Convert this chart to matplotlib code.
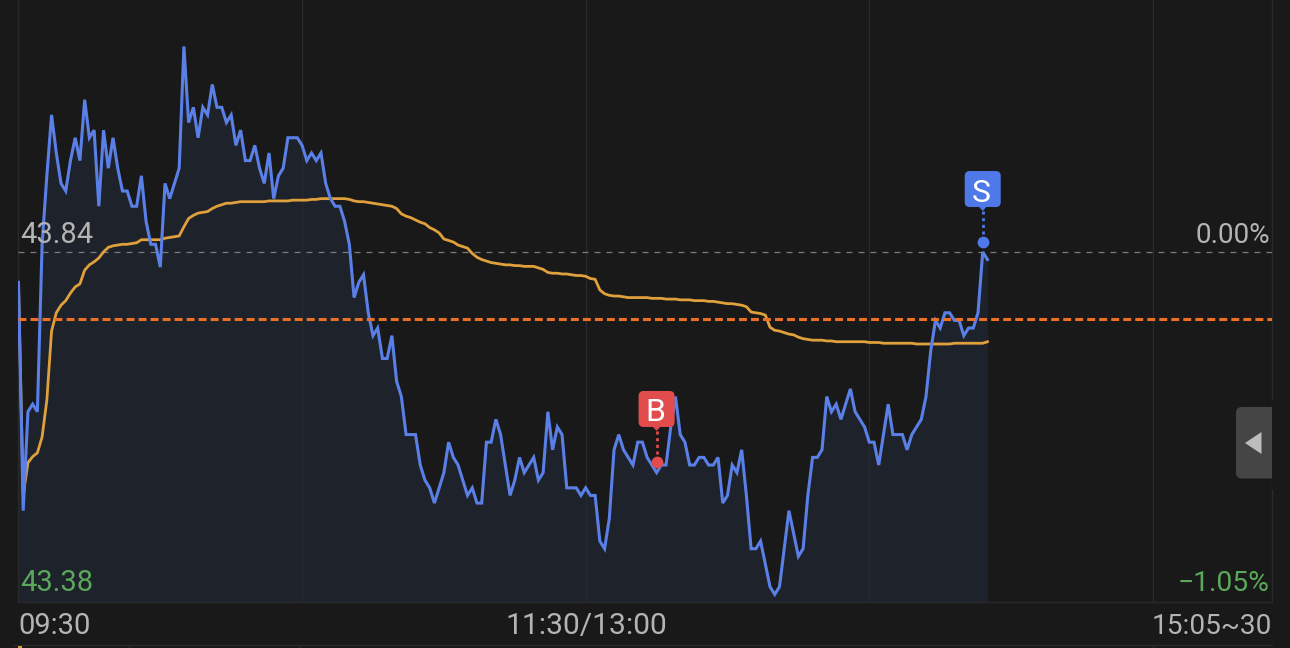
import matplotlib
matplotlib.use("Agg")
import matplotlib.pyplot as plt
import numpy as np
from matplotlib.patches import FancyBboxPatch, Polygon
from matplotlib.transforms import Affine2D

W, H = 1290, 648
BG = "#191919"
BLUE = "#5a80e8"
AVG = "#e0a03c"
ORANGE = "#ea7028"
GREY = "#b4b4b4"
GREEN = "#5aa95a"
FILL = "#1e222b"
GRID = "#292a2c"
RED = "#e24c4c"
TAG_BLUE = "#4f78e8"

price = [
    43.80, 43.50, 43.63, 43.64, 43.63, 43.85, 43.94, 44.02, 43.97, 43.93,
    43.92, 43.96, 43.99, 43.96, 44.04, 43.99, 44.00, 43.90, 44.00, 43.95,
    43.99, 43.95, 43.92, 43.92, 43.90, 43.90, 43.94, 43.88, 43.85, 43.85,
    43.82, 43.93, 43.91, 43.93, 43.95, 44.11, 44.01, 44.03, 43.99, 44.03,
    44.02, 44.06, 44.03, 44.03, 44.01, 44.02, 43.98, 44.00, 43.96, 43.96,
    43.98, 43.95, 43.93, 43.97, 43.91, 43.94, 43.95, 43.99, 43.99, 43.99,
    43.98, 43.96, 43.97, 43.96, 43.97, 43.93, 43.91, 43.90, 43.90, 43.88,
    43.85, 43.78, 43.80, 43.81, 43.76, 43.73, 43.74, 43.70, 43.70, 43.73,
    43.67, 43.65, 43.60, 43.60, 43.60, 43.56, 43.54, 43.53, 43.51, 43.53,
    43.55, 43.59, 43.57, 43.56, 43.54, 43.52, 43.53, 43.51, 43.51, 43.59,
    43.59, 43.62, 43.60, 43.56, 43.52, 43.54, 43.57, 43.55, 43.56, 43.57,
    43.54, 43.55, 43.63, 43.58, 43.61, 43.60, 43.53, 43.53, 43.53, 43.52,
    43.53, 43.52, 43.52, 43.46, 43.45, 43.49, 43.58, 43.60, 43.58, 43.57,
    43.56, 43.59, 43.59, 43.57, 43.56, 43.55, 43.56, 43.56, 43.61, 43.65,
    43.60, 43.59, 43.56, 43.56, 43.57, 43.57, 43.56, 43.56, 43.57, 43.51,
    43.52, 43.56, 43.55, 43.58, 43.52, 43.45, 43.45, 43.46, 43.43, 43.40,
    43.39, 43.40, 43.45, 43.50, 43.47, 43.44, 43.45, 43.52, 43.57, 43.57,
    43.58, 43.65, 43.63, 43.64, 43.62, 43.64, 43.66, 43.63, 43.62, 43.61,
    43.59, 43.59, 43.56, 43.60, 43.64, 43.60, 43.60, 43.60, 43.58, 43.60,
    43.61, 43.62, 43.65, 43.71, 43.75, 43.74, 43.76, 43.76, 43.75, 43.75,
    43.73, 43.74, 43.74, 43.76, 43.84, 43.83,
]

avg_price = [
    43.800, 43.520, 43.563, 43.571, 43.576, 43.597, 43.645, 43.736, 43.760, 43.770,
    43.776, 43.786, 43.794, 43.798, 43.816, 43.823, 43.827, 43.832, 43.840, 43.846,
    43.848, 43.849, 43.850, 43.850, 43.851, 43.852, 43.856, 43.856, 43.856, 43.856,
    43.856, 43.858, 43.859, 43.860, 43.861, 43.873, 43.884, 43.888, 43.891, 43.892,
    43.893, 43.897, 43.900, 43.902, 43.904, 43.904, 43.905, 43.906, 43.906, 43.906,
    43.906, 43.906, 43.906, 43.907, 43.907, 43.907, 43.907, 43.907, 43.908, 43.908,
    43.908, 43.908, 43.909, 43.909, 43.910, 43.910, 43.910, 43.910, 43.910, 43.910,
    43.909, 43.907, 43.906, 43.906, 43.905, 43.904, 43.903, 43.902, 43.901, 43.900,
    43.897, 43.890, 43.887, 43.885, 43.882, 43.879, 43.877, 43.872, 43.869, 43.865,
    43.857, 43.855, 43.853, 43.849, 43.847, 43.845, 43.838, 43.833, 43.830, 43.828,
    43.826, 43.825, 43.824, 43.823, 43.823, 43.822, 43.822, 43.821, 43.821, 43.821,
    43.819, 43.817, 43.813, 43.812, 43.812, 43.811, 43.811, 43.810, 43.809, 43.809,
    43.808, 43.805, 43.804, 43.790, 43.785, 43.783, 43.782, 43.782, 43.781, 43.780,
    43.780, 43.780, 43.780, 43.780, 43.779, 43.779, 43.779, 43.778, 43.778, 43.778,
    43.777, 43.777, 43.777, 43.776, 43.776, 43.776, 43.775, 43.775, 43.774, 43.773,
    43.772, 43.772, 43.771, 43.770, 43.768, 43.761, 43.760, 43.759, 43.757, 43.741,
    43.737, 43.736, 43.734, 43.732, 43.731, 43.728, 43.726, 43.725, 43.724, 43.724,
    43.724, 43.723, 43.723, 43.722, 43.722, 43.722, 43.722, 43.722, 43.722, 43.722,
    43.721, 43.721, 43.721, 43.720, 43.720, 43.720, 43.720, 43.720, 43.720, 43.720,
    43.719, 43.719, 43.719, 43.719, 43.719, 43.719, 43.719, 43.719, 43.720, 43.720,
    43.720, 43.720, 43.720, 43.720, 43.720, 43.722,
]

prev_close = 43.84
axis_low = 43.38
axis_high = 44.171
cost_line = 43.752
session_minutes = 265.3
grid_minutes = [60, 120, 180, 240]
time_labels = ["09:30", "11:30/13:00", "15:05~30"]
price_labels = ["43.84", "43.38"]
pct_labels = ["0.00%", "\u22121.05%"]
buy_trade = ("B", 135, 43.564)
sell_trade = ("S", 204, 43.853)

assert len(price) == len(avg_price)
minutes = np.arange(len(price))

plt.rcParams["font.family"] = ["Roboto", "DejaVu Sans"]
fig = plt.figure(figsize=(W / 100, H / 100), dpi=100, facecolor=BG)
ax = fig.add_axes([18.0 / W, (H - 602) / H, 1254 / W, 602 / H], facecolor=BG)
ax.set_xlim(-0.1, session_minutes - 0.1)
ax.set_ylim(axis_low, axis_high)
ax.set_xticks([])
ax.set_yticks([])
for side, sp in ax.spines.items():
    sp.set_color(GRID)
    sp.set_linewidth(1.0)
ax.spines["top"].set_visible(False)

for m in grid_minutes:
    ax.axvline(m, color=GRID, lw=0.9, zorder=3)
ax.fill_between(minutes, price, axis_low, color=FILL, lw=0, zorder=1)
ax.axhline(prev_close, color="#7a7a7a", lw=0.9, dashes=(4.8, 4.8), zorder=4)
ax.plot(minutes, avg_price, color=AVG, lw=2.0, zorder=5, solid_joinstyle="round")
ax.plot(minutes, price, color=BLUE, lw=2.2, zorder=6, solid_joinstyle="miter")
ax.axhline(cost_line, color=ORANGE, lw=2.2, dashes=(2.6, 1.33), zorder=7)


def tag(trade, color):
    label, minute, value = trade
    cx, cy = ax.transData.transform((minute, value))
    place = Affine2D().translate(cx, cy)
    ax.plot([minute], [value], "o", ms=8.5, color=color, mew=0, zorder=10)
    ax.add_patch(FancyBboxPatch((-15, 38), 30, 30, boxstyle="round,pad=3,rounding_size=5",
                                fc=color, ec="none", transform=place, zorder=11, clip_on=False))
    ax.add_patch(Polygon([(-3.5, 35), (3.5, 35), (0, 31)], fc=color, ec="none",
                         transform=place, zorder=11))
    ax.plot([0, 0], [31, 0], color=color, lw=2.0, dashes=(1.1, 1.3),
            transform=place, zorder=10)
    ax.text(-1, 52, label, color="white", fontsize=23, ha="center", va="center_baseline",
            transform=place, zorder=12)


tag(buy_trade, RED)
tag(sell_trade, TAG_BLUE)

# page furniture in pixel coordinates
ov = fig.add_axes([0, 0, 1, 1], facecolor="none")
ov.set_xlim(0, W)
ov.set_ylim(H, 0)
ov.axis("off")
ov.text(20, 243, price_labels[0], color=GREY, fontsize=21, ha="left", va="baseline")
ov.text(20, 591, price_labels[1], color=GREEN, fontsize=21, ha="left", va="baseline")
ov.text(1270, 243, pct_labels[0], color=GREY, fontsize=20, ha="right", va="baseline")
ov.text(1270, 591, pct_labels[1], color=GREEN, fontsize=20.3, ha="right", va="baseline")
ov.text(18, 634, time_labels[0], color=GREY, fontsize=21, ha="left", va="baseline")
ov.text(586.5, 634, time_labels[1], color=GREY, fontsize=21.6, ha="center", va="baseline")
ov.text(1271.5, 634, time_labels[2], color=GREY, fontsize=20.2, ha="right", va="baseline")

ov.add_patch(FancyBboxPatch((1236, 407), 44, 71.5, boxstyle="round,pad=0,rounding_size=6",
                            fc="#454545", ec="none", zorder=2))
ov.add_patch(plt.Rectangle((1272, 400), 20, 90, fc=BG, ec="none", zorder=3))
ov.add_patch(Polygon([(1245, 443), (1261.5, 432), (1261.5, 454)], fc="#bdbdbd", ec="none", zorder=4))

# strip of the panel below
ov.plot([14, 1272], [644.8, 644.8], color=GRID, lw=0.9)
for tick_px in [128.5, 300, 1153]:
    ov.plot([tick_px, tick_px], [645, 648], color=GRID, lw=0.9)
ov.add_patch(plt.Rectangle((18, 645), 3.5, 3, fc=AVG, ec="none"))

fig.savefig("out.png", dpi=100, facecolor=BG)
